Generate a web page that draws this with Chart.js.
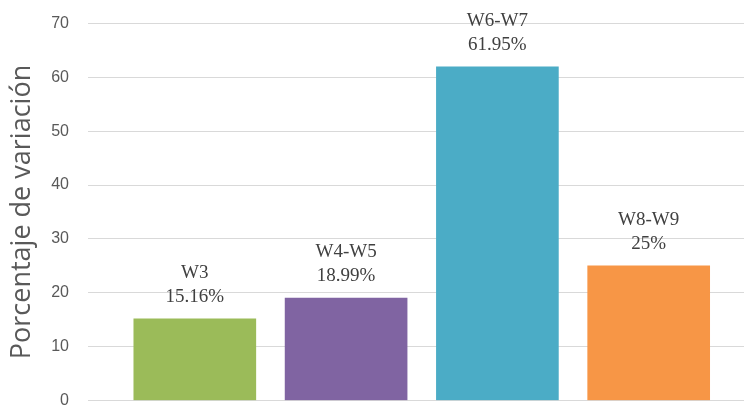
<!DOCTYPE html>
<html>
<head>
<meta charset="utf-8">
<script src="https://cdn.jsdelivr.net/npm/chart.js@4"></script>
<style>
  html, body { margin: 0; padding: 0; background: #fff; }
  #wrap { width: 744px; height: 407px; overflow: hidden; }
  #chart { display: block; margin-top: -5px; }
</style>
</head>
<body>
<div id="wrap"><canvas id="chart" width="744" height="434"></canvas></div>
<script>
const categories = ["W3", "W4-W5", "W6-W7", "W8-W9"];
const values = [15.16, 18.99, 61.95, 25];
const valueLabels = ["15.16%", "18.99%", "61.95%", "25%"];
const colors = ["#9BBB59", "#8064A2", "#4BACC6", "#F79646"];
const yTicks = [0, 10, 20, 30, 40, 50, 60, 70];

// two-line label (category + percentage) above each bar
const barLabels = {
  id: "barLabels",
  afterDatasetsDraw(chart) {
    const ctx = chart.ctx;
    const meta = chart.getDatasetMeta(0);
    ctx.save();
    ctx.font = "19px 'Liberation Serif', serif";
    ctx.fillStyle = "#404040";
    ctx.textAlign = "center";
    ctx.textBaseline = "middle";
    meta.data.forEach((bar, i) => {
      ctx.fillText(categories[i], bar.x, bar.y - 46);
      ctx.fillText(valueLabels[i], bar.x, bar.y - 22);
    });
    ctx.restore();
  }
};

new Chart(document.getElementById("chart"), {
  type: "bar",
  data: {
    datasets: [{
      data: values.map((v, i) => ({ x: i, y: v })),
      backgroundColor: colors,
      borderWidth: 0,
      barThickness: 122
    }]
  },
  options: {
    responsive: false,
    animation: false,
    layout: { autoPadding: false, padding: { top: 19, right: 0, bottom: 7, left: 0 } },
    plugins: { legend: { display: false }, tooltip: { enabled: false } },
    scales: {
      x: {
        type: "linear",
        offset: false,
        min: -0.706,
        max: 3.63,
        display: false
      },
      y: {
        min: 0,
        max: 70,
        afterBuildTicks: (axis) => { axis.ticks = yTicks.map(v => ({ value: v })); },
        afterFit: (axis) => { axis.width = 88; },
        border: { display: false },
        grid: { color: "#D9D9D9", drawTicks: false, lineWidth: 1 },
        ticks: {
          padding: 19,
          color: "#595959",
          font: { family: "'Liberation Sans', Arial, sans-serif", size: 16 }
        },
        title: {
          display: true,
          text: "Porcentaje de variación",
          color: "#595959",
          font: { family: "'Open Sans', sans-serif", size: 27 },
          padding: { top: 6, bottom: 4 }
        }
      }
    }
  },
  plugins: [barLabels]
});
</script>
</body>
</html>
